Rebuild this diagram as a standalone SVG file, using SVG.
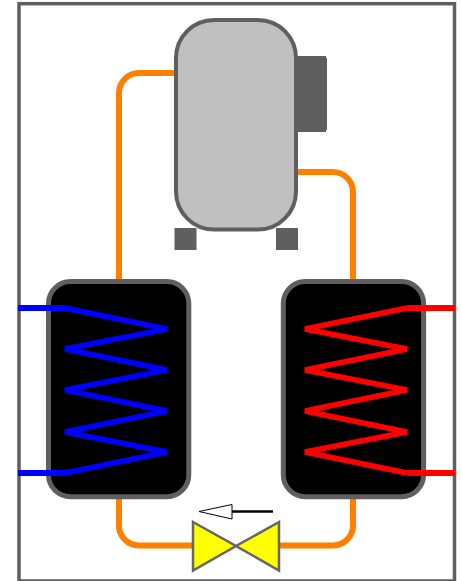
<svg xmlns="http://www.w3.org/2000/svg" width="462" height="581" viewBox="0 0 462 581">
<style>
.gray{fill:#5f5f5f}
.pipe{fill:none;stroke:#ff8000;stroke-width:6}
.tank{fill:#000;stroke:#5f5f5f;stroke-width:5}
.coil{fill:none;stroke-width:5.500;stroke-linejoin:bevel}
.stub{fill:none;stroke-width:6}
.blue{stroke:#0000ff}
.red{stroke:#ff0000}
.valve{fill:#ffff00;stroke:#666;stroke-width:2.500}
</style>
<rect width="462" height="581" fill="#fff"/>
<rect id="frame" x="19" y="3.700" width="435.500" height="577.300" fill="none" stroke="#5f5f5f" stroke-width="3.500"/>
<g id="connectors">
<path class="pipe" d="M176 73H139A20 20 0 0 0 119 93V282"/>
<path class="pipe" d="M296 172H333A20 20 0 0 1 353 192V282"/>
<path class="pipe" d="M119 497V525A20 20 0 0 0 139 545.500H193"/>
<path class="pipe" d="M353 497V525A20 20 0 0 1 333 545.500H279"/>
</g>
<g id="compressor">
<rect class="gray" x="174.500" y="228" width="22" height="22"/>
<rect class="gray" x="276" y="228" width="22" height="22"/>
<rect class="gray" x="294" y="56" width="32" height="76"/>
<rect class="gray" x="320" y="58" width="7" height="72"/>
<rect x="176" y="20" width="120" height="209.500" rx="38" ry="38" fill="#c0c0c0" stroke="#5f5f5f" stroke-width="4"/>
</g>
<g id="evaporator">
<rect class="tank" x="48.500" y="281.500" width="140.300" height="215.300" rx="22" ry="22"/>
<path class="stub blue" d="M18 308H65M18 473H65"/>
<path class="coil blue" d="M65 308L167 329L65 349L167 370L65 390L167 411L65 432L167 452L65 473"/>
</g>
<g id="condenser">
<rect class="tank" x="283.300" y="281.500" width="140.300" height="215.300" rx="22" ry="22"/>
<path class="stub red" d="M455 308H407M455 473H407"/>
<path class="coil red" d="M407 308L305 329L407 349L305 370L407 390L305 411L407 432L305 452L407 473"/>
</g>
<g id="valve">
<path class="valve" d="M193 522L236 546L193 570.500Z"/>
<path class="valve" d="M279 522L236 546L279 570.500Z"/>
</g>
<g id="flow-arrow">
<path d="M232 511.500H273" stroke="#000" stroke-width="2.500" fill="none"/>
<path d="M199 511.500L232 504.500V519Z" fill="#fff" stroke="#000" stroke-width="1"/>
</g>
</svg>
